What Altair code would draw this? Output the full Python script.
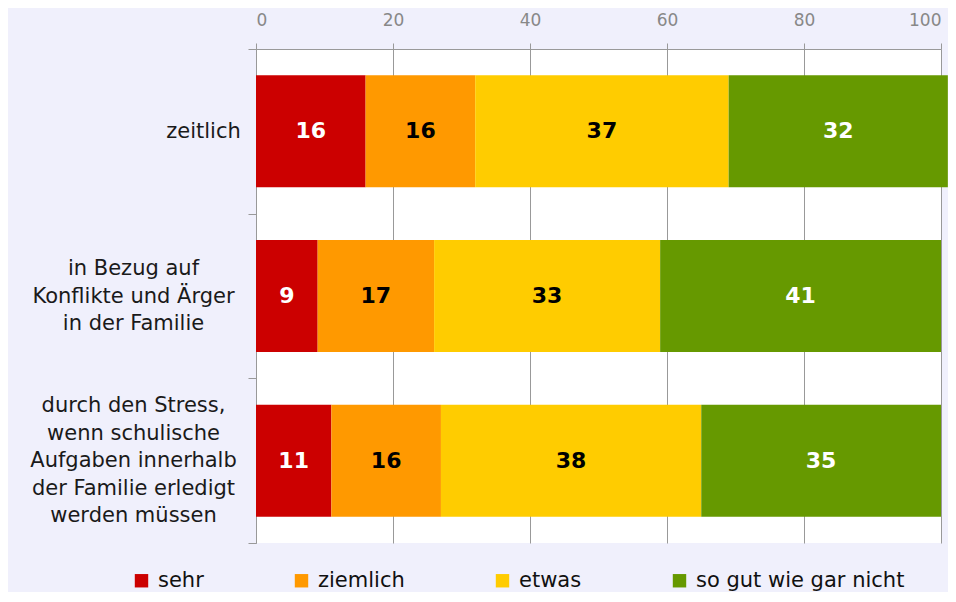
import altair as alt
import pandas as pd

categories = [
    "zeitlich",
    "in Bezug auf|Konflikte und Ärger|in der Familie",
    "durch den Stress,|wenn schulische|Aufgaben innerhalb|der Familie erledigt|werden müssen",
]
levels = ["sehr", "ziemlich", "etwas", "so gut wie gar nicht"]
level_colors = ["#cc0000", "#ff9900", "#ffcc00", "#669900"]
text_colors = ["white", "black", "black", "white"]

values_sehr = [16, 9, 11]
values_ziemlich = [16, 17, 16]
values_etwas = [37, 33, 38]
values_gar_nicht = [32, 41, 35]

series = [values_sehr, values_ziemlich, values_etwas, values_gar_nicht]
rows = []
for li, (lvl, vals) in enumerate(zip(levels, series)):
    for cat, v in zip(categories, vals):
        rows.append({"cat": cat, "level": lvl, "value": v, "ord": li, "tc": text_colors[li]})
df = pd.DataFrame(rows)

FONT = "DejaVu Sans"
LH = 27.5
NB = "\u00a0"

# the three-line label gets one blank leading line so one offset centres it like the five-line one
label_expr = (
    "split((length(split(datum.label, '|')) == 3 ? '" + NB + "|' : '') + datum.label, '|')"
)
is_single = "datum.value == 'zeitlich'"

base = alt.Chart(df).transform_stack(
    stack="value", groupby=["cat"], sort=[alt.SortField("ord")], as_=["x0", "x1"]
).transform_calculate(mid="(datum.x0 + datum.x1) / 2")

y_enc = alt.Y(
    "cat:N",
    sort=categories,
    scale=alt.Scale(paddingInner=0, paddingOuter=0),
    axis=alt.Axis(
        title=None,
        labelExpr=label_expr,
        tickBand="extent",
        labelAlign="center",
        labelBaseline="middle",
        labelPadding={"condition": {"test": is_single, "value": 45}, "value": 115},
        labelOffset={"condition": {"test": is_single, "value": 0}, "value": -2 * LH},
        labelFont=FONT,
        labelFontSize=21,
        labelLineHeight=LH,
        labelColor="#1a1a1a",
        tickSize=8,
        tickColor="#999999",
        domainColor="#999999",
        labelLimit=400,
    ),
)

x_scale = alt.Scale(domain=[0, 100], nice=False, zero=True)

bars = base.mark_bar(size=112).encode(
    x=alt.X(
        "x0:Q",
        scale=x_scale,
        axis=alt.Axis(
            orient="top",
            title=None,
            values=[0, 20, 40, 60, 80, 100],
            labelFont=FONT,
            labelFontSize=17,
            labelColor="#888888",
            labelPadding=14,
            tickSize=6,
            tickColor="#999999",
            domainColor="#999999",
            gridColor="#999999",
            gridWidth=1,
            grid=True,
        ),
    ),
    x2="x1:Q",
    y=y_enc,
    color=alt.Color(
        "level:N",
        sort=levels,
        scale=alt.Scale(domain=levels, range=level_colors),
        legend=alt.Legend(
            orient="none",
            legendX=-125,
            legendY=521,
            direction="horizontal",
            title=None,
            columnPadding=87,
            symbolType="square",
            symbolSize=180,
            symbolStrokeWidth=0,
            labelFont=FONT,
            labelFontSize=21,
            labelColor="#111111",
            labelOffset=6,
            labelLimit=400,
        ),
    ),
    order=alt.Order("ord:Q"),
)

texts = base.mark_text(font=FONT, fontSize=22, fontWeight="bold", baseline="middle").encode(
    x=alt.X("mid:Q", scale=x_scale),
    y=alt.Y("cat:N", sort=categories),
    text=alt.Text("value:Q"),
    color=alt.Color("tc:N", scale=None),
)

chart = (
    alt.layer(bars, texts)
    .properties(
        width=685,
        height=494,
        background="#f0f0fc",
        autosize=alt.AutoSizeParams(type="none"),
        padding={"left": 248, "top": 41, "right": 7, "bottom": 49},
    )
    .configure_view(stroke=None, fill="white")
)

chart.save("out.html", embed_options={"renderer": "svg", "actions": False})
